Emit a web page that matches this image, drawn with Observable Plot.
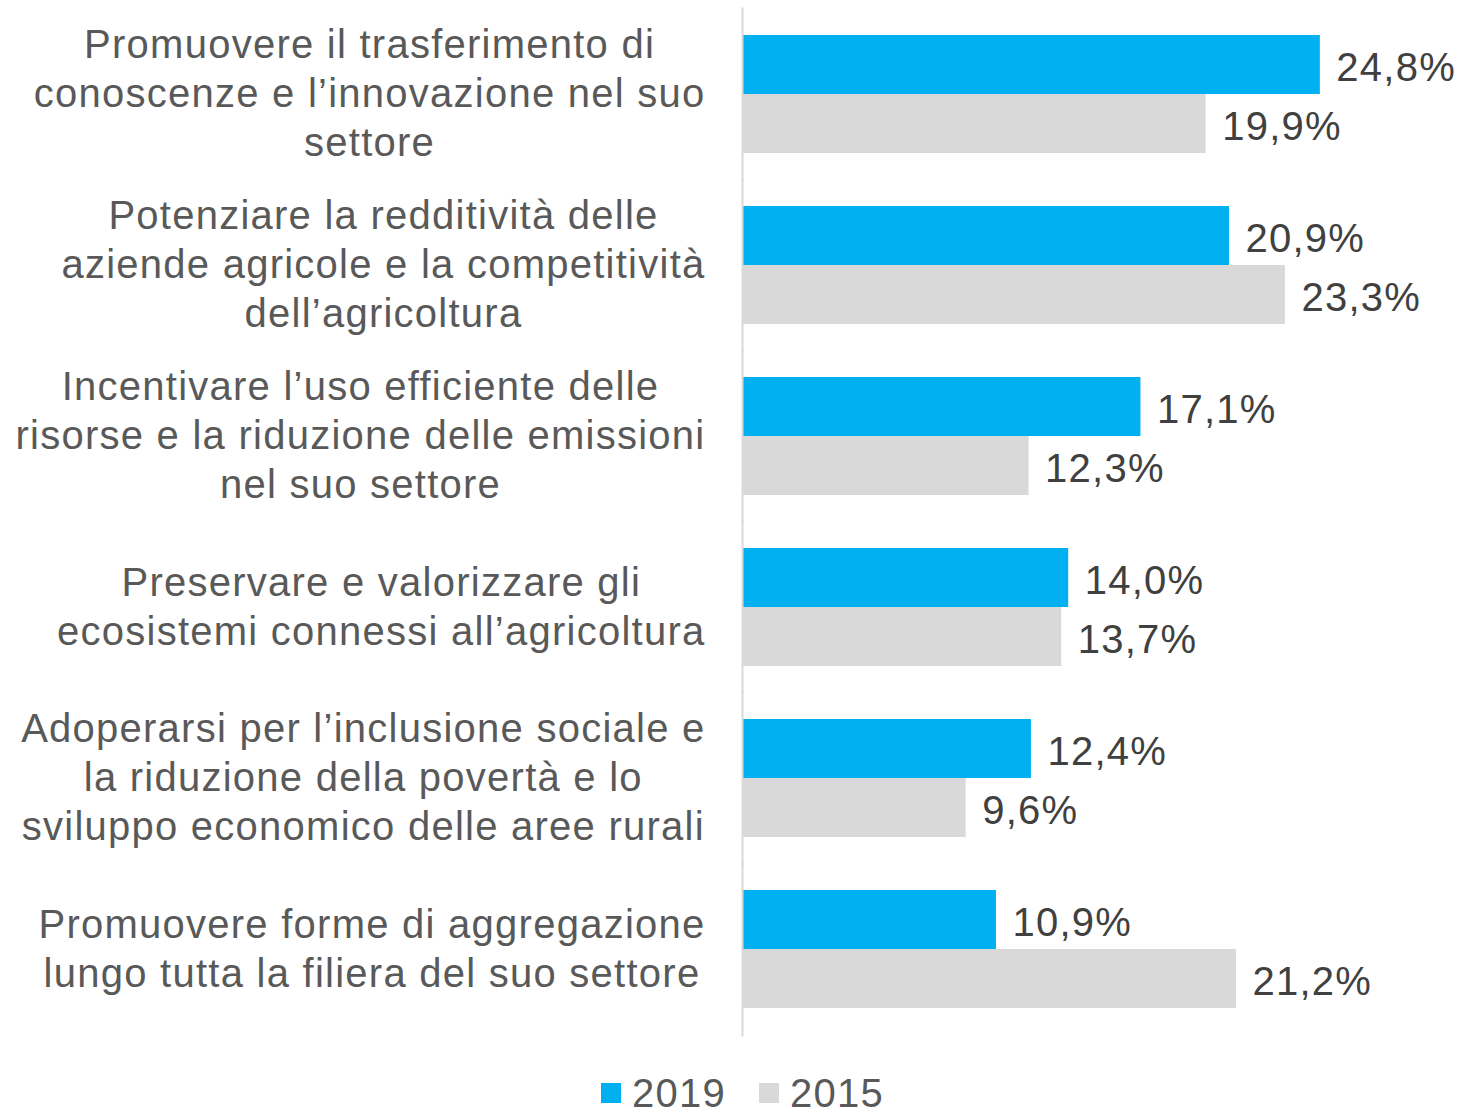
<!DOCTYPE html>
<html>
<head>
<meta charset="utf-8">
<script src="https://cdn.jsdelivr.net/npm/d3@7"></script>
<script src="https://cdn.jsdelivr.net/npm/@observablehq/plot@0.6"></script>
<style>
  html, body { margin: 0; padding: 0; background: #fff; }
  #chart { width: 1465px; }
  #chart svg text { letter-spacing: 1.25px; }
  .legend { display: flex; justify-content: center; align-items: center; margin-top: 30px; padding-left: 20px; height: 36px; line-height: 36px; font-family: "Liberation Sans", Arial, sans-serif; font-size: 40px; letter-spacing: 1.25px; color: #595959; }
  .legend .item { display: flex; align-items: center; }
  .legend .item + .item { margin-left: 33px; }
  .legend .sw { width: 20px; height: 20px; margin-right: 11px; }
</style>
</head>
<body>
<div id="chart"></div>
<script>
const categories = [
  "Promuovere il trasferimento di\nconoscenze e l\u2019innovazione nel suo\nsettore",
  "Potenziare la redditivit\u00e0 delle\naziende agricole e la competitivit\u00e0\ndell\u2019agricoltura",
  "Incentivare l\u2019uso efficiente delle\nrisorse e la riduzione delle emissioni\nnel suo settore",
  "Preservare e valorizzare gli\necosistemi connessi all\u2019agricoltura",
  "Adoperarsi per l\u2019inclusione sociale e\nla riduzione della povert\u00e0 e lo\nsviluppo economico delle aree rurali",
  "Promuovere forme di aggregazione\nlungo tutta la filiera del suo settore"
];
const years = ["2019", "2015"];
const values2019 = [24.8, 20.9, 17.1, 14.0, 12.4, 10.9];
const values2015 = [19.9, 23.3, 12.3, 13.7, 9.6, 21.2];
const colors = ["#00B0F0", "#D9D9D9"];

const data = [];
categories.forEach((c, i) => {
  data.push({cat: c, year: "2019", value: values2019[i]});
  data.push({cat: c, year: "2015", value: values2015[i]});
});

const FONT = "'Liberation Sans', Arial, sans-serif";
const FS = 40;
const LS = 1.25;
const canvas = document.createElement("canvas");
const ctx = canvas.getContext("2d");
ctx.font = `${FS}px ${FONT}`;
const lineWidth = l => ctx.measureText(l).width + LS * [...l].length;
const maxWidth = s => Math.max(...s.split("\n").map(lineWidth));

const labelMarks = categories.map(c => Plot.text([c], {
  fy: d => d, text: d => d, frameAnchor: "left", textAnchor: "middle",
  dx: -(37 + maxWidth(c) / 2), dy: -3, lineHeight: 49 / FS,
  fontSize: FS, fontFamily: FONT, fill: "#595959"
}));

const chart = Plot.plot({
  width: 1465,
  height: 1045,
  marginLeft: 742,
  marginRight: 24,
  marginTop: 8,
  marginBottom: 10,
  style: {fontFamily: FONT, background: "#fff"},
  x: {domain: [0, 30], axis: null},
  y: {domain: years, paddingInner: 0, paddingOuter: 0, axis: null},
  fy: {domain: categories, paddingInner: 0.31, paddingOuter: 0.155, axis: null},
  color: {domain: years, range: colors},
  marks: [
    Plot.barX(data, {x: "value", y: "year", fy: "cat", fill: "year", inset: 0}),
    Plot.text(data, {
      x: "value", y: "year", fy: "cat",
      text: d => d.value.toFixed(1).replace(".", ",") + "%",
      textAnchor: "start", dx: 16, dy: 3,
      fontSize: FS, fontFamily: FONT, fill: "#404040"
    }),
    ...labelMarks,
    Plot.frame({anchor: "left", insetTop: -27, insetBottom: -27, stroke: "#D9D9D9", strokeWidth: 2})
  ]
});

document.getElementById("chart").appendChild(chart);

const legend = document.createElement("div");
legend.className = "legend";
years.forEach((y, i) => {
  const item = document.createElement("div");
  item.className = "item";
  const sw = document.createElement("span");
  sw.className = "sw";
  sw.style.background = colors[i];
  const t = document.createElement("span");
  t.textContent = y;
  item.appendChild(sw);
  item.appendChild(t);
  legend.appendChild(item);
});
document.getElementById("chart").appendChild(legend);
</script>
</body>
</html>
